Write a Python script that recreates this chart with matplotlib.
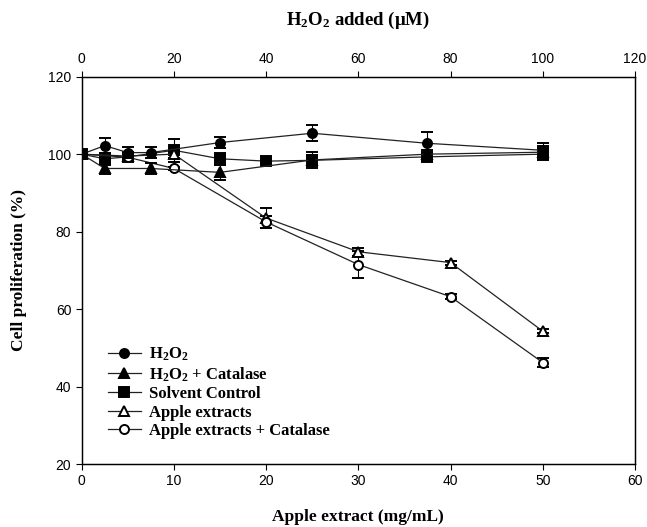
import matplotlib.pyplot as plt
from matplotlib.lines import Line2D

plt.rcParams['mathtext.fontset'] = 'custom'
plt.rcParams['mathtext.bf'] = 'Liberation Serif:bold'
plt.rcParams['mathtext.rm'] = 'Liberation Serif:bold'

# H2O2 series (top axis, uM)
h2o2_uM = [0, 5, 10, 15, 30, 50, 75, 100]
h2o2 = [100, 102.2, 100.4, 100.4, 103.0, 105.4, 102.8, 101.0]
h2o2_err = [0.5, 2.0, 1.5, 1.5, 1.5, 2.0, 2.8, 1.8]

cat_uM = [0, 5, 15, 30, 50, 75, 100]
h2o2_cat = [100, 96.3, 96.3, 95.3, 98.5, 100.0, 100.5]
cat_err = [0.5, 1.5, 1.5, 2.0, 2.0, 1.0, 1.5]

# bottom axis series (mg/mL)
solvent_mg = [0, 2.5, 5, 10, 15, 20, 25, 37.5, 50]
solvent = [100, 98.8, 99.3, 101.0, 98.8, 98.2, 98.4, 99.3, 100.0]
solvent_err = [0.5, 1.5, 1.0, 3.0, 1.5, 0.5, 1.5, 1.0, 1.5]

apple_mg = [0, 5, 10, 20, 30, 40, 50]
apple = [100, 99.5, 100, 83.5, 74.8, 72.0, 54.3]
apple_err = [0.5, 1.0, 1.0, 2.5, 1.0, 0.5, 0.5]
apple_cat = [100, 99.2, 96.3, 82.5, 71.5, 63.2, 46.2]
apple_cat_err = [0.5, 1.0, 0.5, 1.5, 3.5, 0.7, 1.2]

serif = 'Liberation Serif'
sans = 'Liberation Sans'

fig = plt.figure(figsize=(6.47, 5.27), dpi=100)
ax = fig.add_axes([0.1263, 0.1195, 0.855, 0.735])
ax2 = ax.twiny()

eb = dict(color='#222222', ecolor='black', elinewidth=0.8, capsize=4, capthick=0.8,
          linewidth=0.9, markersize=6.5, markeredgecolor='black', markeredgewidth=1.4)

ax.errorbar(solvent_mg, solvent, yerr=solvent_err, marker='s', markerfacecolor='black', **eb)
ax.errorbar(apple_mg, apple, yerr=apple_err, marker='^', markerfacecolor='white', **eb)
ax.errorbar(apple_mg, apple_cat, yerr=apple_cat_err, marker='o', markerfacecolor='white', **eb)
ax2.errorbar(cat_uM, h2o2_cat, yerr=cat_err, marker='^', markerfacecolor='black', **eb)
ax2.errorbar(h2o2_uM, h2o2, yerr=h2o2_err, marker='o', markerfacecolor='black', **eb)

ax.set_xlim(0, 60)
ax.set_ylim(20, 120)
ax2.set_xlim(0, 120)
ax.set_xticks(range(0, 61, 10))
ax.set_yticks(range(20, 121, 20))
ax2.set_xticks(range(0, 121, 20))

for a in (ax, ax2):
    a.tick_params(direction='out', length=4, width=0.8, labelsize=10)
    for lab in a.get_xticklabels() + a.get_yticklabels():
        lab.set_fontfamily(sans)
    for s in a.spines.values():
        s.set_linewidth(0.9)

ax.set_xlabel('Apple extract (mg/mL)', fontfamily=serif, fontweight='bold', fontsize=12.5, labelpad=15)
ax.set_ylabel('Cell proliferation (%)', fontfamily=serif, fontweight='bold', fontsize=12.5, labelpad=15)
ax2.set_xlabel(r'$\mathbf{H_2O_2}$ added ($\mathbf{\mu}$M)', fontfamily=serif, fontweight='bold',
               fontsize=13.5, labelpad=20)

def h(marker, fill):
    return Line2D([], [], color='#222222', linewidth=0.9, marker=marker, markersize=6.5,
                  markerfacecolor=fill, markeredgecolor='black', markeredgewidth=1.4)

handles = [h('o', 'black'), h('^', 'black'), h('s', 'black'), h('^', 'white'), h('o', 'white')]
labels = [r'$\mathbf{H_2O_2}$', r'$\mathbf{H_2O_2}$ + Catalase', 'Solvent Control',
          'Apple extracts', 'Apple extracts + Catalase']
ax2.legend(handles, labels, loc='upper left', bbox_to_anchor=(0.02, 0.345), frameon=False,
           prop={'family': serif, 'weight': 'bold', 'size': 12}, handlelength=2.0,
           labelspacing=0.15, handletextpad=0.5)

fig.savefig('out.png', dpi=100)
